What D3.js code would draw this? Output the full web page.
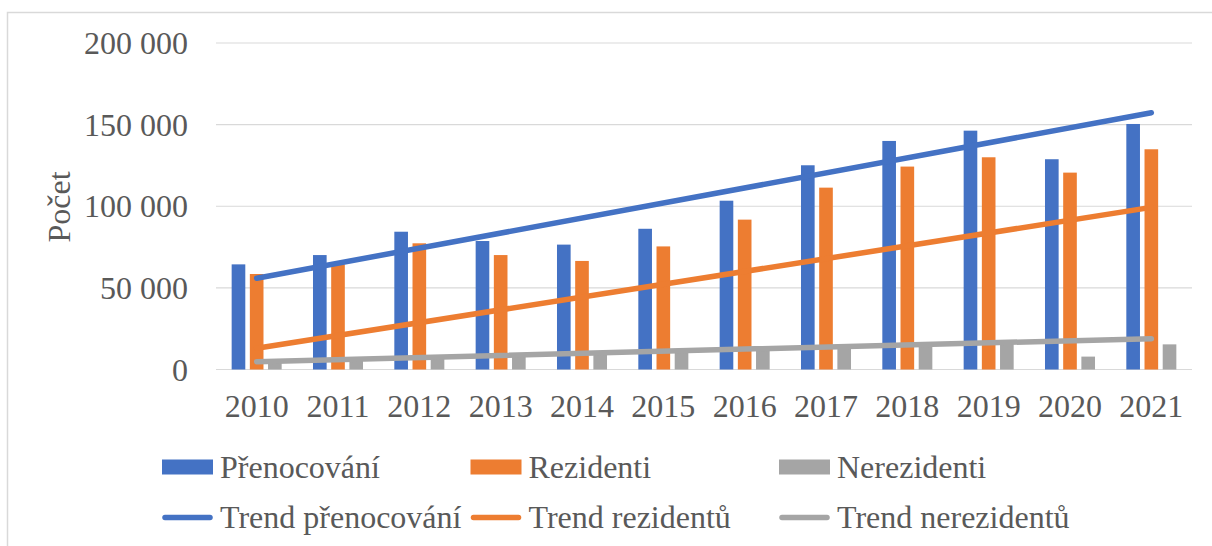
<!DOCTYPE html>
<html>
<head>
<meta charset="utf-8">
<script src="https://cdn.jsdelivr.net/npm/d3@7"></script>
<style>
  body { margin: 0; background: #fff; }
  text { font-family: "Liberation Serif", "Times New Roman", serif; fill: #595959; }
</style>
</head>
<body>
<script>
// data
var years = ["2010","2011","2012","2013","2014","2015","2016","2017","2018","2019","2020","2021"];
var prenocovani = [64400, 70100, 84400, 78700, 76500, 86200, 103400, 125100, 140000, 146300, 128800, 150400];
var rezidenti   = [58500, 64400, 77300, 70100, 66500, 75400, 91800, 111400, 124300, 130000, 120600, 134900];
var nerezidenti = [5800, 5700, 7000, 8300, 9600, 10600, 11600, 13600, 15500, 16000, 7900, 15400];
// trend lines: value at first and last year
var trendYears = ["2010", "2021"];
var trendPrenocovani = [55900, 157300];
var trendRezidentu   = [13000, 99300];
var trendNerezidentu = [4800, 18900];
var yTicks = [0, 50000, 100000, 150000, 200000];

var seriesNames = ["Přenocování", "Rezidenti", "Nerezidenti"];
var trendNames = ["Trend přenocování", "Trend rezidentů", "Trend nerezidentů"];
var colors = ["#4472C4", "#ED7D31", "#A5A5A5"];

var width = 1212, height = 546;
var plotLeft = 216, plotRight = 1192, plotTop = 43, plotBottom = 369.5;

var svg = d3.select("body").append("svg")
    .attr("width", width)
    .attr("height", height);

// chart frame
svg.append("rect")
    .attr("x", 7.5).attr("y", 12.5)
    .attr("width", width + 20).attr("height", height + 20)
    .style("fill", "none")
    .style("stroke", "#d9d9d9")
    .style("stroke-width", 1.5);

var x0 = d3.scaleBand().domain(years).range([plotLeft, plotRight])
    .paddingInner(0.385).paddingOuter(0.1925);
var x1 = d3.scaleBand().domain(d3.range(3)).range([0, x0.bandwidth()])
    .paddingInner(0.25);
var y = d3.scaleLinear().domain([0, 200000]).range([plotBottom, plotTop]);

var fmt = function(v) { return d3.format(",")(v).replace(/,/g, " "); };

//GRID + Y AXIS
svg.append("g").selectAll("line").data(yTicks)
    .enter().append("line")
    .attr("x1", plotLeft).attr("x2", plotRight)
    .attr("y1", d => y(d)).attr("y2", d => y(d))
    .style("stroke", "#d9d9d9")
    .style("stroke-width", 1.2);

svg.append("g").selectAll("text").data(yTicks)
    .enter().append("text")
    .text(fmt)
    .attr("x", 188)
    .attr("y", d => y(d) + 11)
    .attr("text-anchor", "end")
    .style("font-size", "32px");

svg.append("text")
    .text("Počet")
    .attr("transform", "translate(70,207) rotate(-90)")
    .attr("text-anchor", "middle")
    .style("font-size", "32px");

//BARS
var series = [prenocovani, rezidenti, nerezidenti];
series.forEach(function(vals, s) {
    svg.append("g").selectAll("rect").data(vals)
        .enter().append("rect")
        .attr("x", (d, i) => x0(years[i]) + x1(s))
        .attr("width", x1.bandwidth())
        .attr("y", d => y(d))
        .attr("height", d => y(0) - y(d))
        .style("fill", colors[s]);
});

//TREND LINES
var trends = [trendPrenocovani, trendRezidentu, trendNerezidentu];
var line = d3.line()
    .x((d, i) => x0(trendYears[i]) + x0.bandwidth() / 2)
    .y(d => y(d));
trends.forEach(function(vals, s) {
    svg.append("path")
        .attr("d", line(vals))
        .style("fill", "none")
        .style("stroke", colors[s])
        .style("stroke-width", 5.5)
        .style("stroke-linecap", "round");
});

//X AXIS LABELS
svg.append("g").selectAll("text").data(years)
    .enter().append("text")
    .text(d => d)
    .attr("x", d => x0(d) + x0.bandwidth() / 2)
    .attr("y", 417)
    .attr("text-anchor", "middle")
    .style("font-size", "32px");

//LEGEND
var legX = [162, 470.5, 779];
var leg1 = svg.append("g").selectAll("g").data(seriesNames).enter().append("g");
leg1.append("rect")
    .attr("x", (d, i) => legX[i]).attr("y", 459.5)
    .attr("width", 51).attr("height", 15)
    .style("fill", (d, i) => colors[i]);
leg1.append("text")
    .text(d => d)
    .attr("x", (d, i) => legX[i] + 58).attr("y", 478)
    .style("font-size", "32px");

var leg2 = svg.append("g").selectAll("g").data(trendNames).enter().append("g");
leg2.append("line")
    .attr("x1", (d, i) => legX[i] + 3).attr("x2", (d, i) => legX[i] + 48)
    .attr("y1", 517.5).attr("y2", 517.5)
    .style("stroke", (d, i) => colors[i])
    .style("stroke-width", 5.5)
    .style("stroke-linecap", "round");
leg2.append("text")
    .text(d => d)
    .attr("x", (d, i) => legX[i] + 58).attr("y", 528)
    .style("font-size", "32px");
</script>
</body>
</html>
